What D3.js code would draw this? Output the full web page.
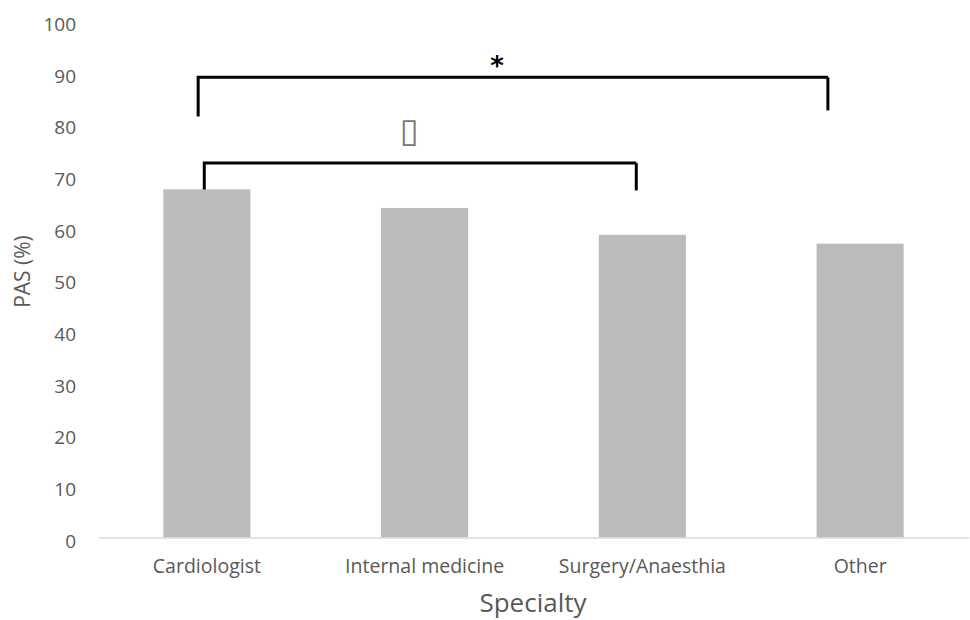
<!DOCTYPE html>
<html>
<head>
<meta charset="utf-8">
<script src="https://cdn.jsdelivr.net/npm/d3@7"></script>
<style>
  html, body { margin: 0; padding: 0; background: #fff; }
  svg { display: block; }
</style>
</head>
<body>
<svg id="chart" width="970" height="620"></svg>
<script>
// ---- data ----
const categories = ["Cardiologist", "Internal medicine", "Surgery/Anaesthia", "Other"];
const values = [67.4, 63.8, 58.6, 56.9];
const yTicks = [0, 10, 20, 30, 40, 50, 60, 70, 80, 90, 100];
const yTitle = "PAS (%)";
const xTitle = "Specialty";
// significance brackets
const bracketFrom = ["Cardiologist", "Cardiologist"];
const bracketTo = ["Other", "Surgery/Anaesthia"];
const bracketLevel = [89.1, 72.5];
const bracketLeftEnd = [81.5, 67.4];
const bracketRightEnd = [82.7, 67.2];
const bracketLabel = ["*", "\u25AF"];

// ---- layout ----
const svg = d3.select("#chart");
const W = 970, H = 620;
const margin = { left: 98, right: 1, top: 21, bottom: 82.5 };

const x = d3.scaleBand()
  .domain(categories)
  .range([margin.left, W - margin.right])
  .paddingInner(0.6)
  .paddingOuter(0.3);

const y = d3.scaleLinear()
  .domain([0, 100])
  .range([H - margin.bottom, margin.top]);

const font = "'Open Sans', 'Liberation Sans', sans-serif";
const txtColor = "#595959";

// bars
svg.append("g").selectAll("rect")
  .data(values)
  .join("rect")
  .attr("x", (d, i) => x(categories[i]))
  .attr("y", d => y(d))
  .attr("width", x.bandwidth())
  .attr("height", d => y(0) - y(d))
  .attr("fill", "#bbbbbb");

// y axis (labels only)
const yAxis = d3.axisLeft(y).tickValues(yTicks).tickSize(0).tickPadding(0);
const gy = svg.append("g")
  .attr("transform", `translate(76,3.5)`)
  .call(yAxis);
gy.select(".domain").remove();
gy.selectAll("text")
  .attr("fill", txtColor)
  .style("font-family", font)
  .style("font-size", "19px");

// x axis
const xAxis = d3.axisBottom(x).tickSize(0).tickPadding(0);
const gx = svg.append("g")
  .attr("transform", `translate(0,${y(0)})`)
  .call(xAxis);
gx.select(".domain").attr("stroke", "#d9d9d9").attr("stroke-width", 1.5);
gx.selectAll("text")
  .attr("dy", null)
  .attr("y", 35)
  .attr("fill", txtColor)
  .style("font-family", font)
  .style("font-size", "19.5px");

// axis titles
svg.append("text")
  .attr("x", 533)
  .attr("y", 612)
  .attr("text-anchor", "middle")
  .attr("fill", txtColor)
  .style("font-family", font)
  .style("font-size", "26px")
  .text(xTitle);

svg.append("text")
  .attr("transform", `translate(22,${y(51.5)}) rotate(-90)`)
  .attr("text-anchor", "middle")
  .attr("dominant-baseline", "central")
  .attr("fill", txtColor)
  .style("font-family", font)
  .style("font-size", "21px")
  .text(yTitle);

// significance brackets
const bx = (cat, frac) => x(cat) + x.bandwidth() * frac;
const leftFrac = [0.4, 0.47];
const rightFrac = [0.13, 0.43];
const g = svg.append("g").attr("fill", "none").attr("stroke", "#000").attr("stroke-width", 3);
bracketFrom.forEach((f, i) => {
  const x1 = bx(f, leftFrac[i]);
  const x2 = bx(bracketTo[i], rightFrac[i]);
  g.append("path")
    .attr("d", `M${x1},${y(bracketLeftEnd[i])}V${y(bracketLevel[i])}H${x2}`);
  g.append("path")
    .attr("d", `M${x2},${y(bracketLevel[i])}V${y(bracketRightEnd[i])}`);
});

// labels
svg.append("text")
  .attr("x", 497)
  .attr("y", y(89.6))
  .attr("text-anchor", "middle")
  .attr("fill", "#000")
  .style("font-family", "'DejaVu Sans', sans-serif")
  .style("font-size", "26px")
  .style("font-weight", "bold")
  .text(bracketLabel[0]);

svg.append("text")
  .attr("x", 409)
  .attr("y", y(76.5))
  .attr("text-anchor", "middle")
  .attr("fill", "#777")
  .style("font-family", "'DejaVu Sans', sans-serif")
  .style("font-size", "34px")
  .text(bracketLabel[1]);
</script>
</body>
</html>
